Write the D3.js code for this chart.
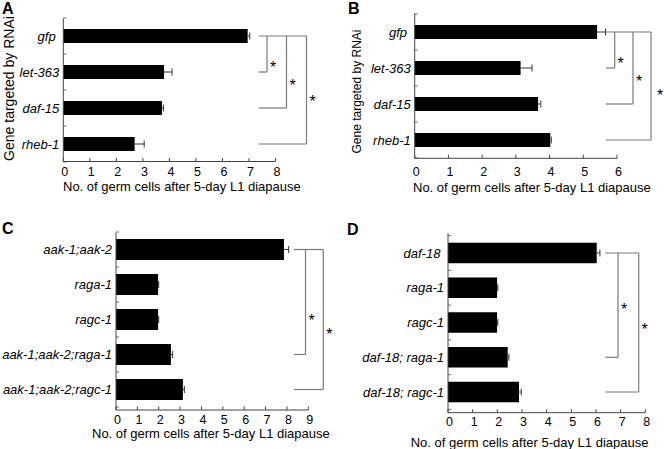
<!DOCTYPE html>
<html>
<head>
<meta charset="utf-8">
<script src="https://cdn.jsdelivr.net/npm/d3@7"></script>
<style>
  html, body { margin: 0; padding: 0; background: #fff; }
  svg { display: block; font-family: "Liberation Sans", Arial, sans-serif; }
  .cat { white-space: pre; font-style: italic; }
</style>
</head>
<body>
<svg id="chart" width="664" height="449"></svg>
<script>
// ---------------- DATA ----------------
const catsA = ["gfp ", "let-363", "daf-15", "rheb-1"];
const valsA = [6.95, 3.80, 3.72, 2.69];
const errsA = [0.08, 0.30, 0.06, 0.36];
const ticksA = [0, 1, 2, 3, 4, 5, 6, 7, 8];
const sigA = [[0, 1, "*"], [0, 2, "*"], [0, 3, "*"]];

const catsB = ["gfp ", "let-363", "daf-15", "rheb-1"];
const valsB = [5.41, 3.14, 3.66, 4.02];
const errsB = [0.25, 0.34, 0.08, 0.03];
const ticksB = [0, 1, 2, 3, 4, 5, 6];
const sigB = [[0, 1, "*"], [0, 2, "*"], [0, 3, "*"]];

const catsC = ["aak-1;aak-2", "raga-1", "ragc-1", "aak-1;aak-2;raga-1", "aak-1;aak-2;ragc-1"];
const valsC = [7.86, 1.97, 1.97, 2.57, 3.13];
const errsC = [0.22, 0.03, 0.03, 0.08, 0.07];
const ticksC = [0, 1, 2, 3, 4, 5, 6, 7, 8, 9];
const sigC = [[0, 3, "*"], [0, 4, "*"]];

const catsD = ["daf-18 ", "raga-1", "ragc-1", "daf-18; raga-1", "daf-18; ragc-1"];
const valsD = [6.03, 1.99, 1.99, 2.42, 2.88];
const errsD = [0.13, 0.03, 0.03, 0.05, 0.09];
const ticksD = [0, 1, 2, 3, 4, 5, 6, 7, 8];
const sigD = [[0, 3, "*"], [0, 4, "*"]];

const xTitle = "No. of germ cells after 5-day L1 diapause";
const yTitle = "Gene targeted by RNAi";

// ---------------- LAYOUT ----------------
const panels = [
  { letter: "A", lx: 2, ly: 14, cats: catsA, vals: valsA, errs: errsA, ticks: ticksA, sig: sigA,
    x0: 63.3, x1: 275.5, yTop: 18, yBot: 162, axTop: 18.3, axisY: 161.5, barH: 14,
    tickLabY: 176, titleX: 63, titleY: 190.5,
    ylab: { x: 13.5, y: 88.5, fs: 14 },
    br: { start: 258.5, verts: [267, 286.5, 306.5], starDx: [6, 6, 6], starF: [0.78, 0.64, 0.57] } },
  { letter: "B", lx: 348, ly: 14, cats: catsB, vals: valsB, errs: errsB, ticks: ticksB, sig: sigB,
    x0: 414.7, x1: 617, yTop: 14, yBot: 158, axTop: 13.3, axisY: 158.3, barH: 14,
    tickLabY: 176, titleX: 413, titleY: 192,
    ylab: { x: 360.6, y: 91.5, fs: 12 },
    br: { start: 606, verts: [614.7, 633, 651], starDx: [6, 6, 9], starF: [0.78, 0.64, 0.56] } },
  { letter: "C", lx: 2, ly: 234, cats: catsC, vals: valsC, errs: errsC, ticks: ticksC, sig: sigC,
    x0: 116, x1: 308.3, yTop: 232, yBot: 407, axTop: 232.5, axisY: 410, barH: 21,
    tickLabY: 423.5, titleX: 92, titleY: 438,
    ylab: null,
    br: { start: 294, verts: [305.5, 323.3], starDx: [6, 6], starF: [0.64, 0.58] } },
  { letter: "D", lx: 347, ly: 235, cats: catsD, vals: valsD, errs: errsD, ticks: ticksD, sig: sigD,
    x0: 448, x1: 645.3, yTop: 235.6, yBot: 409.4, axTop: 233.3, axisY: 412.7, barH: 20.5,
    tickLabY: 426, titleX: 410.7, titleY: 446.5,
    ylab: null,
    br: { start: 605.3, verts: [618, 638.7], starDx: [6, 6], starF: [0.51, 0.525] } }
];

const svg = d3.select("#chart");
const axisColor = "#444";
const brColor = "#7a7a7a";

panels.forEach(p => {
  const g = svg.append("g");
  const xmax = d3.max(p.ticks);
  const x = d3.scaleLinear().domain([0, xmax]).range([p.x0, p.x1]);
  const y = d3.scaleBand().domain(p.cats).range([p.yTop, p.yBot]).padding(0);
  const bw = y.bandwidth();
  const cy = c => y(c) + bw / 2;

  // panel letter
  g.append("text").attr("x", p.lx).attr("y", p.ly)
    .attr("font-size", 16).attr("font-weight", "bold").attr("fill", "#000").text(p.letter);

  // bars
  g.selectAll("rect.bar").data(p.cats).join("rect")
    .attr("class", "bar")
    .attr("x", x(0))
    .attr("y", c => cy(c) - p.barH / 2)
    .attr("width", (c, i) => x(p.vals[i]) - x(0))
    .attr("height", p.barH)
    .attr("fill", "#000");

  // error bars (positive side only)
  p.cats.forEach((c, i) => {
    const xe = x(p.vals[i] + p.errs[i]);
    g.append("line").attr("x1", x(p.vals[i])).attr("x2", xe)
      .attr("y1", cy(c)).attr("y2", cy(c)).attr("stroke", "#333").attr("stroke-width", 1);
    g.append("line").attr("x1", xe).attr("x2", xe)
      .attr("y1", cy(c) - 3.5).attr("y2", cy(c) + 3.5).attr("stroke", "#333").attr("stroke-width", 1);
  });

  // y axis line
  g.append("line").attr("x1", p.x0).attr("x2", p.x0).attr("y1", p.axTop).attr("y2", p.axisY)
    .attr("stroke", axisColor).attr("stroke-width", 1);
  // y minor ticks at band boundaries (inside)
  const bounds = p.cats.map(c => y(c)).concat([p.yBot]);
  g.selectAll("line.ytick").data(bounds).join("line").attr("class", "ytick")
    .attr("x1", p.x0).attr("x2", p.x0 + 3).attr("y1", d => d).attr("y2", d => d)
    .attr("stroke", "#666").attr("stroke-width", 1);

  // category labels
  g.selectAll("text.cat").data(p.cats).join("text").attr("class", "cat")
    .attr("x", p.x0 - 4).attr("y", c => cy(c) + 4.6)
    .attr("text-anchor", "end").attr("font-size", 13).attr("fill", "#000")
    .text(c => c);

  // x axis
  g.append("line").attr("x1", p.x0).attr("x2", x(xmax)).attr("y1", p.axisY).attr("y2", p.axisY)
    .attr("stroke", axisColor).attr("stroke-width", 1);
  g.selectAll("line.xtick").data(p.ticks).join("line").attr("class", "xtick")
    .attr("x1", d => x(d)).attr("x2", d => x(d)).attr("y1", p.axisY).attr("y2", p.axisY - 3.5)
    .attr("stroke", axisColor).attr("stroke-width", 1);
  g.selectAll("text.xtl").data(p.ticks).join("text").attr("class", "xtl")
    .attr("x", d => x(d) + 1.5).attr("y", p.tickLabY)
    .attr("text-anchor", "middle").attr("font-size", 12.5).attr("fill", "#000")
    .text(d => d3.format("d")(d));

  // x title
  g.append("text").attr("x", p.titleX).attr("y", p.titleY)
    .attr("font-size", 13).attr("fill", "#000").text(xTitle);

  // y title
  if (p.ylab) {
    g.append("text").attr("transform", `translate(${p.ylab.x},${p.ylab.y}) rotate(-90)`)
      .attr("text-anchor", "middle").attr("font-size", p.ylab.fs).attr("fill", "#000").text(yTitle);
  }

  // significance brackets
  const ref = p.cats[p.sig[0][0]];
  const lastV = p.br.verts[p.br.verts.length - 1];
  g.append("line").attr("x1", p.br.start).attr("x2", lastV)
    .attr("y1", cy(ref)).attr("y2", cy(ref)).attr("stroke", brColor).attr("stroke-width", 1.2);
  p.sig.forEach((s, k) => {
    const ya = cy(p.cats[s[0]]), yb = cy(p.cats[s[1]]);
    const vx = p.br.verts[k];
    g.append("line").attr("x1", vx).attr("x2", vx).attr("y1", ya).attr("y2", yb)
      .attr("stroke", brColor).attr("stroke-width", 1.2);
    g.append("line").attr("x1", p.br.start).attr("x2", vx).attr("y1", yb).attr("y2", yb)
      .attr("stroke", brColor).attr("stroke-width", 1.2);
    const sy = ya + p.br.starF[k] * (yb - ya);
    g.append("text").attr("x", vx + p.br.starDx[k]).attr("y", sy + 9)
      .attr("text-anchor", "middle").attr("font-size", 16).attr("fill", "#000").text(s[2]);
  });
});
</script>
</body>
</html>
